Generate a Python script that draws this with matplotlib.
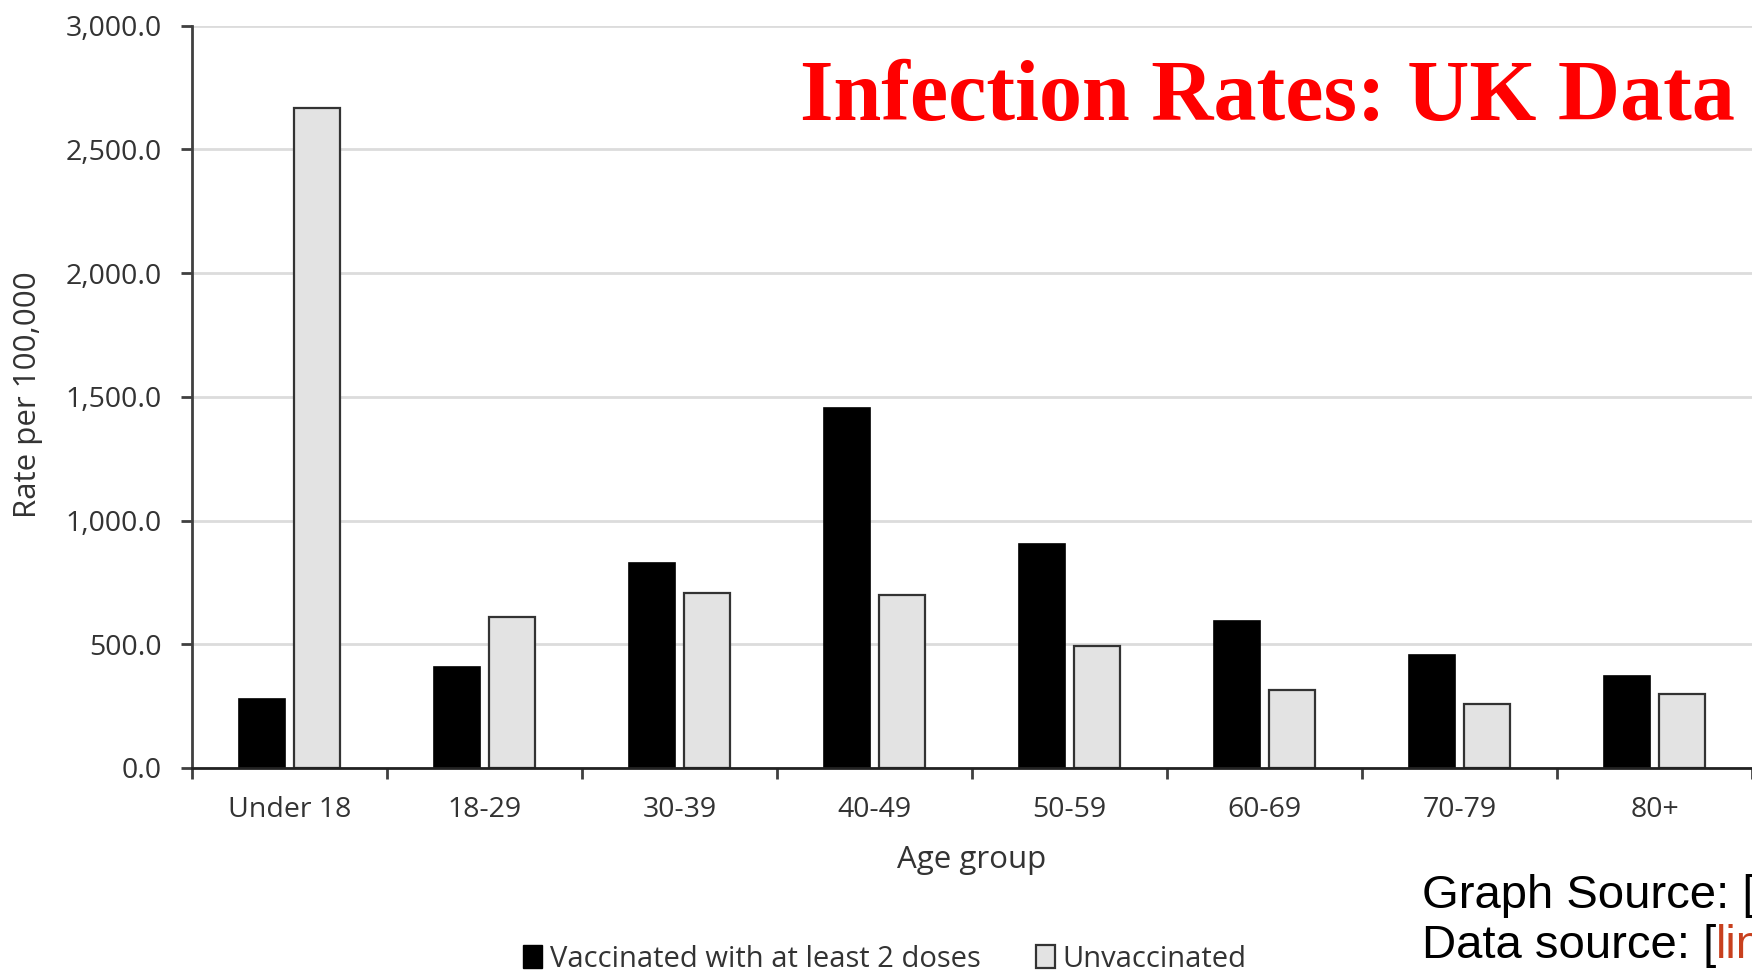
import numpy as np
import matplotlib.pyplot as plt
from matplotlib.patches import Patch

# age groups and rates per 100,000
age_groups = ['Under 18', '18-29', '30-39', '40-49', '50-59', '60-69', '70-79', '80+']
vaccinated = [280, 407, 827, 1455, 904, 592, 456, 370]
unvaccinated = [2666, 610, 709, 700, 492, 316, 258, 298]
y_ticks = [0, 500, 1000, 1500, 2000, 2500, 3000]

sans = ['Open Sans', 'DejaVu Sans']
txt_col = '#333333'

fig = plt.figure(figsize=(17.52, 9.72), dpi=100)
ax = fig.add_axes([0.1096, 0.2099, 0.8904, 0.7637])

x = np.arange(len(age_groups))
w = 0.235
off = 0.143
ax.bar(x - off, vaccinated, w, color='black', edgecolor='black', linewidth=1.2, zorder=3)
ax.bar(x + off, unvaccinated, w, color='#e3e3e3', edgecolor='#333333', linewidth=1.6, zorder=3)

ax.set_xlim(-0.5, 7.5)
ax.set_ylim(0, 3000)
ax.set_yticks(y_ticks)
ax.set_yticklabels([f'{v:,.1f}' for v in y_ticks], fontsize=20.5, color=txt_col, family=sans)
ax.set_xticks(x)
ax.set_xticklabels(age_groups, fontsize=20.5, color=txt_col, family=sans)
ax.set_xticks(np.arange(-0.5, 8.0, 1.0), minor=True)
ax.tick_params(axis='x', which='major', length=0, pad=20)
ax.tick_params(axis='x', which='minor', length=8, width=2, color='#404040', direction='out')
ax.tick_params(axis='y', length=8, width=2, color='#404040', pad=14)

ax.grid(axis='y', color='#dcdcdc', linewidth=2, zorder=0)
for s in ['top', 'right']:
    ax.spines[s].set_visible(False)
ax.spines['left'].set_color('#404040')
ax.spines['left'].set_linewidth(2)
ax.spines['bottom'].set_color('#222222')
ax.spines['bottom'].set_linewidth(2)
ax.spines['left'].set_zorder(4)
ax.spines['bottom'].set_zorder(4)

ax.set_xlabel('Age group', fontsize=22.5, color=txt_col, family=sans, labelpad=15)
fig.text(0.016, 0.594, 'Rate per 100,000', rotation=90, ha='center', va='center',
         fontsize=22.5, color=txt_col, family=sans)

handles = [Patch(facecolor='black', edgecolor='black', label='Vaccinated with at least 2 doses'),
           Patch(facecolor='#e3e3e3', edgecolor='#333333', linewidth=1.6, label='Unvaccinated')]
fig.legend(handles=handles, loc='center', bbox_to_anchor=(0.505, 0.013), ncol=2, frameon=False,
           prop={'family': sans, 'size': 21}, handlelength=0.65, handleheight=0.85,
           handletextpad=0.25, columnspacing=1.9, labelcolor=txt_col)

fig.text(0.4566, 0.8765, 'Infection Rates: UK Data', color='#ff0000', fontsize=62,
         fontweight='bold', family='Liberation Serif', ha='left', va='baseline')

fig.text(0.8116, 0.066, 'Graph Source: [', color='black', fontsize=34,
         family='Liberation Sans', ha='left', va='baseline')
t = fig.text(0.8116, 0.0144, 'Data source: [', color='black', fontsize=34,
             family='Liberation Sans', ha='left', va='baseline')
fig.canvas.draw()
bb = t.get_window_extent()
fig.text(bb.x1 / fig.bbox.width, 0.0144, 'link]', color='#c8401e', fontsize=34,
         family='Liberation Sans', ha='left', va='baseline')

fig.savefig('out.png', dpi=100)
